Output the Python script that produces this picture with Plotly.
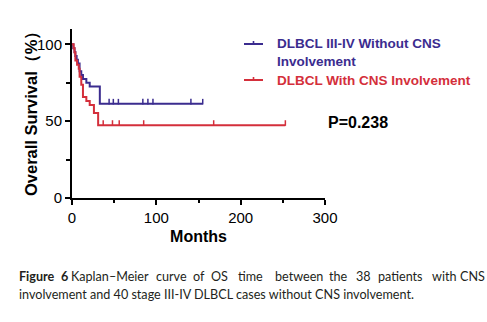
import plotly.graph_objects as go

# Kaplan–Meier step data (months, % surviving)
no_cns_months = [0, 1.5, 3, 4, 5.5, 7, 9, 11, 13, 17, 21, 33, 155]
no_cns_surv = [100, 97.5, 95, 92.5, 90, 87.5, 82.5, 80, 77.5, 75, 72.5, 61.3, 61.3]
no_cns_censored = [44, 49, 55, 84, 90, 96, 141, 155]

cns_months = [0, 2, 3, 4, 6, 8, 9, 11, 13, 17, 21, 26, 31, 253]
cns_surv = [100, 97.4, 94.7, 89.5, 86.8, 84.2, 78.9, 73.7, 65.8, 63.2, 60.5, 55.3, 47.4, 47.4]
cns_censored = [37, 48, 56, 85, 168, 253]

series_names = ["DLBCL III-IV Without CNS Involvement", "DLBCL With CNS Involvement"]
x_ticks = [0, 100, 200, 300]
y_ticks = [0, 50, 100]
p_value_text = "P=0.238"

# Figure caption: first line is justified, so each word is set at its own spot
caption_line1_words = ["<b>Figure</b>", "<b>6</b>", "Kaplan–Meier", "curve", "of", "OS", "time",
                       "between", "the", "38", "patients", "with", "CNS"]
caption_line1_left = [17, 59, 69, 154, 191, 209, 236, 273, 327, 354, 376, 430, 458]
caption_line2 = "involvement and 40 stage III-IV DLBCL cases without CNS involvement."

BLUE = "#3b2c8f"
RED = "#d42f3b"
FONT = "Liberation Sans, Arial, sans-serif"
CAP_FONT = "Lato, sans-serif"


def level_at(months, surv, t):
    """Survival level of a step curve at time t."""
    val = surv[0]
    for m, s in zip(months, surv):
        if m <= t:
            val = s
    return val


fig = go.Figure()
for months, surv, cens, color, name in [
    (no_cns_months, no_cns_surv, no_cns_censored, BLUE, series_names[0]),
    (cns_months, cns_surv, cns_censored, RED, series_names[1]),
]:
    fig.add_trace(go.Scatter(
        x=months, y=surv, mode="lines", line=dict(color=color, width=2, shape="hv"),
        name=name, showlegend=False,
    ))
    # censoring ticks sit just above the curve
    fig.add_trace(go.Scatter(
        x=cens, y=[level_at(months, surv, t) + 1.4 for t in cens], mode="markers",
        marker=dict(symbol="line-ns", size=4, line=dict(color=color, width=1.5)),
        showlegend=False,
    ))

axis_common = dict(
    showline=True, linecolor="black", linewidth=2, ticks="outside", ticklen=5,
    tickwidth=2, tickcolor="black", showgrid=False, zeroline=False,
    tickfont=dict(family=FONT, size=15, color="black"),
)
fig.update_xaxes(
    range=[0, 300], tickvals=x_ticks, ticktext=[str(v) for v in x_ticks],
    minor=dict(dtick=50, tick0=0, ticks="outside", ticklen=3, tickwidth=2, tickcolor="black"),
    title=dict(text="<b>Months</b>", font=dict(family=FONT, size=16, color="black"), standoff=6),
    **axis_common,
)
fig.update_yaxes(
    range=[0, 110], tickvals=y_ticks, ticktext=[str(v) for v in y_ticks],
    minor=dict(tickvals=[25, 75], ticks="outside", ticklen=4, tickwidth=2, tickcolor="black"),
    **axis_common,
)

L, R, T, B = 72, 162, 29, 124
W, H = 487, 322
PW, PH = W - L - R, H - T - B


def px(x):
    return (x - L) / PW


def py(y):
    return (H - B - y) / PH


annotations = [
    dict(text="<b>Overall Survival（%）</b>", textangle=-90, x=px(31), y=py(110),
         font=dict(family=FONT, size=16.5, color="black")),
    dict(text="<b>" + p_value_text + "</b>", x=px(358), y=py(123),
         font=dict(family=FONT, size=16, color="black")),
    dict(text="<b>DLBCL III-IV Without CNS<br>Involvement</b>", x=px(275), y=py(52),
         xanchor="left", align="left", font=dict(family=FONT, size=13.5, color=BLUE)),
    dict(text="<b>DLBCL With CNS Involvement</b>", x=px(275), y=py(80),
         xanchor="left", font=dict(family=FONT, size=13.5, color=RED)),
    dict(text=caption_line2, x=px(17), y=py(294), xanchor="left",
         font=dict(family=CAP_FONT, size=12.6, color="#231f20")),
]
for word, left in zip(caption_line1_words, caption_line1_left):
    annotations.append(dict(text=word, x=px(left), y=py(276), xanchor="left",
                            font=dict(family=CAP_FONT, size=12.6, color="#231f20")))
for a in annotations:
    a.update(xref="paper", yref="paper", showarrow=False)
    a.setdefault("xanchor", "center")
    a.setdefault("yanchor", "middle")

shapes = []
for ypix, color in [(44, BLUE), (80, RED)]:
    shapes.append(dict(type="line", xref="paper", yref="paper", x0=px(244), x1=px(263),
                       y0=py(ypix), y1=py(ypix), line=dict(color=color, width=2)))
    shapes.append(dict(type="line", xref="paper", yref="paper", x0=px(253.5), x1=px(253.5),
                       y0=py(ypix), y1=py(ypix - 3), line=dict(color=color, width=1.6)))

fig.update_layout(
    width=W, height=H, margin=dict(l=L, r=R, t=T, b=B),
    paper_bgcolor="white", plot_bgcolor="white",
    annotations=annotations, shapes=shapes, showlegend=False,
)
fig.write_html("out.html")
